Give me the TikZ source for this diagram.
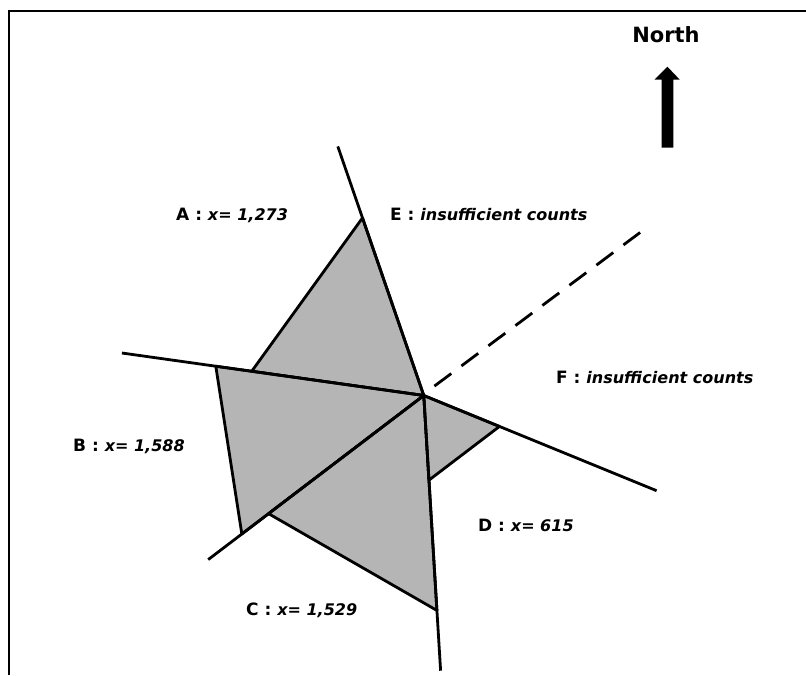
\documentclass[tikz,border=0pt]{standalone}
\usepackage{fontspec}
\setmainfont{DejaVu Sans}
\usetikzlibrary{calc}
\newcommand\valtxt[1]{{\fontsize{16}{19}\selectfont\itshape #1}}
\begin{document}
\begin{tikzpicture}[x=1pt,y=-1pt,
  edge/.style={line width=2.8pt,line join=round},
  sector/.style={fill=black!29, draw=black, line width=2.8pt, line join=round},
  lbl/.style={anchor=base west, inner sep=0pt, font=\bfseries\fontsize{17}{20}\selectfont}]
\useasboundingbox (0,0) rectangle (806,675);
% frame (top and left edges)
\draw[line width=2.5pt] (806,11) -- (9,11) -- (9,675);
% centre and ray ends
\coordinate (O) at (423.8,395.5);
\coordinate (Nn) at (337.8,146.4);
\coordinate (Ss) at (440.6,670.7);
\coordinate (Ww) at (121.9,353);
\coordinate (Ee) at (656.6,490.7);
\coordinate (SWe) at (208.2,559.6);
\coordinate (NEs) at (434.4,386.1);
\coordinate (NEe) at (640.1,232.5);
% sector vertices
\coordinate (Atop) at ($(O)!0.713!(Nn)$);
\coordinate (Aleft) at ($(O)!0.570!(Ww)$);
\coordinate (Btop) at ($(O)!0.689!(Ww)$);
\coordinate (Bbot) at ($(O)!0.844!(SWe)$);
\coordinate (Cleft) at ($(O)!0.720!(SWe)$);
\coordinate (Cbot) at ($(O)!0.781!(Ss)$);
\coordinate (Dright) at ($(O)!0.325!(Ee)$);
\coordinate (Dbot) at ($(O)!0.3075!(Ss)$);
% sectors
\draw[sector] (O) -- (Atop) -- (Aleft) -- cycle;
\draw[sector] (O) -- (Btop) -- (Bbot) -- cycle;
\draw[sector] (O) -- (Cleft) -- (Cbot) -- cycle;
\draw[sector] (O) -- (Dright) -- (Dbot) -- cycle;
% boundary rays
\draw[edge] (Nn) -- (O) -- (Ss);
\draw[edge] (Ww) -- (O) -- (Ee);
\draw[edge] (O) -- (SWe);
\draw[edge, dash pattern=on 21pt off 12.7pt] (NEs) -- (NEe);
% north arrow
\fill (661.7,147.7) -- (673.3,147.7) -- (673.3,79.6) -- (679.7,79.6) -- (667.4,66.7)
  -- (654.5,79.6) -- (661.7,79.6) -- cycle;
\node[anchor=base, inner sep=0pt, font=\bfseries\fontsize{21}{24}\selectfont] (north) at (666,42.2) {North};
% labels
\node[lbl] (la) at (176,220) {A : \valtxt{x= 1,273}};
\node[lbl] (le) at (390,220) {E : \valtxt{insufficient counts}};
\node[lbl] (lb) at (73,451) {B : \valtxt{x= 1,588}};
\node[lbl] (lf) at (556,383) {F : \valtxt{insufficient counts}};
\node[lbl] (ld) at (478,531.6) {D : \valtxt{x= 615}};
\node[lbl] (lc) at (246,615.6) {C : \valtxt{x= 1,529}};
\end{tikzpicture}
\end{document}
